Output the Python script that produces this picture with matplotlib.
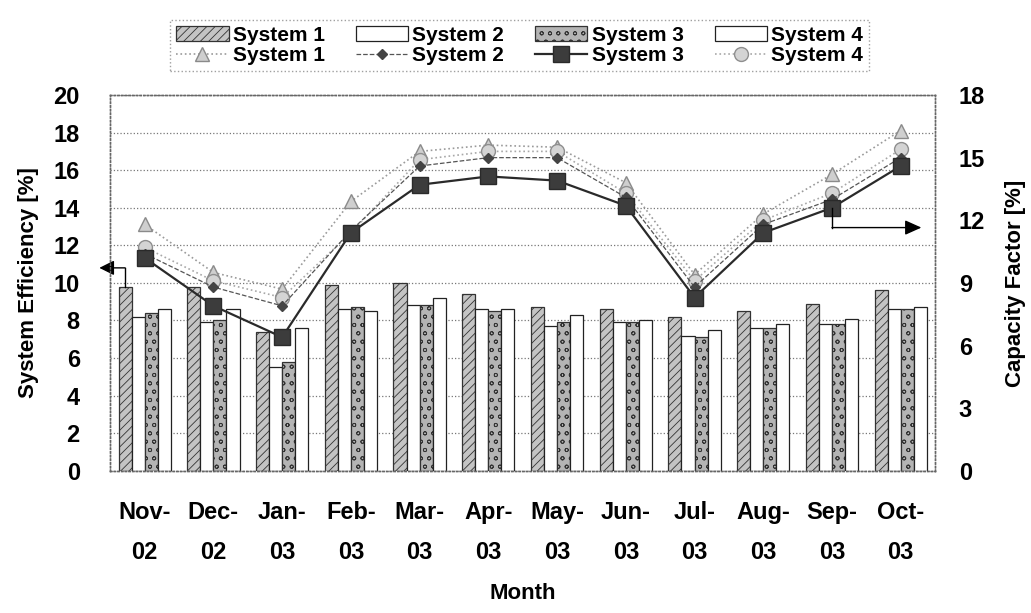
import matplotlib.pyplot as plt
import numpy as np
from matplotlib.lines import Line2D
from matplotlib.patches import Patch

plt.rcParams['font.family'] = ['Liberation Sans', 'DejaVu Sans']
plt.rcParams['font.weight'] = 'bold'
plt.rcParams['hatch.linewidth'] = 0.6

months = ['Nov-\n02', 'Dec-\n02', 'Jan-\n03', 'Feb-\n03', 'Mar-\n03', 'Apr-\n03',
          'May-\n03', 'Jun-\n03', 'Jul-\n03', 'Aug-\n03', 'Sep-\n03', 'Oct-\n03']

# system efficiency [%] (bars, left axis)
eff_s1 = [9.8, 9.8, 7.4, 9.9, 10.0, 9.4, 8.7, 8.6, 8.2, 8.5, 8.9, 9.6]
eff_s2 = [8.2, 7.9, 5.5, 8.6, 8.8, 8.6, 7.7, 7.9, 7.2, 7.6, 7.8, 8.6]
eff_s3 = [8.4, 8.0, 5.8, 8.7, 8.8, 8.5, 7.9, 7.9, 7.1, 7.6, 7.8, 8.6]
eff_s4 = [8.6, 8.6, 7.6, 8.5, 9.2, 8.6, 8.3, 8.0, 7.5, 7.8, 8.1, 8.7]

# capacity factor [%] (lines, right axis)
cf_s1 = [11.8, 9.5, 8.7, 12.9, 15.3, 15.6, 15.5, 13.8, 9.4, 12.3, 14.2, 16.3]
cf_s2 = [10.4, 8.8, 7.9, 11.5, 14.6, 15.0, 15.0, 13.1, 8.8, 11.8, 13.0, 15.0]
cf_s3 = [10.2, 7.9, 6.4, 11.4, 13.7, 14.1, 13.9, 12.7, 8.3, 11.4, 12.6, 14.6]
cf_s4 = [10.7, 9.1, 8.3, 11.4, 14.9, 15.3, 15.3, 13.3, 9.1, 12.0, 13.3, 15.4]

x = np.arange(len(months))
w = 0.19

fig = plt.figure(figsize=(10.31, 6.13), dpi=100)
ax = fig.add_axes([0.107, 0.232, 0.800, 0.613])
ax2 = ax.twinx()

bar_styles = [
    dict(facecolor='#c4c4c4', edgecolor='#333333', hatch='////'),
    dict(facecolor='white', edgecolor='#222222'),
    dict(facecolor='#b4b4b4', edgecolor='#333333', hatch='oo'),
    dict(facecolor='white', edgecolor='#222222'),
]
for i, (vals, st) in enumerate(zip([eff_s1, eff_s2, eff_s3, eff_s4], bar_styles)):
    ax.bar(x + (i - 1.5) * w, vals, width=w, linewidth=0.9, zorder=2, **st)

line_styles = [
    dict(color='#9a9a9a', linestyle=':', linewidth=1.2, marker='^', markersize=10,
         markerfacecolor='#cfcfcf', markeredgecolor='#8a8a8a'),
    dict(color='#555555', linestyle='--', linewidth=0.9, marker='D', markersize=5,
         markerfacecolor='#444444', markeredgecolor='#444444'),
    dict(color='#2a2a2a', linestyle='-', linewidth=1.6, marker='s', markersize=11,
         markerfacecolor='#3c3c3c', markeredgecolor='#2a2a2a'),
    dict(color='#a8a8a8', linestyle=':', linewidth=1.2, marker='o', markersize=10,
         markerfacecolor='#d4d4d4', markeredgecolor='#8f8f8f'),
]
# light series first so the solid System 3 line sits on top
for vals, st in zip([cf_s1, cf_s4, cf_s2, cf_s3],
                    [line_styles[0], line_styles[3], line_styles[1], line_styles[2]]):
    ax2.plot(x, vals, zorder=3, **st)

ax.set_xlim(-0.5, 11.5)
ax.set_ylim(0, 20)
ax.set_yticks(range(0, 21, 2))
ax2.set_ylim(0, 18)
ax2.set_yticks(range(0, 19, 3))
ax.set_xticks(x)
ax.set_xticklabels(months, linespacing=1.9)

ax.grid(axis='y', linestyle=':', color='#777777', linewidth=0.9, zorder=0)
ax.set_axisbelow(True)
for a in (ax, ax2):
    for s in a.spines.values():
        s.set_linestyle(':')
        s.set_color('#666666')
        s.set_linewidth(1.0)

ax.tick_params(axis='x', length=0, pad=22, labelsize=17)
ax.tick_params(axis='y', length=0, pad=22, labelsize=17)
ax2.tick_params(axis='y', length=0, pad=17, labelsize=17)

ax.set_xlabel('Month', fontsize=16, fontweight='bold', labelpad=14)
ax.set_ylabel('System Efficiency [%]', fontsize=16, fontweight='bold', labelpad=10)
ax2.set_ylabel('Capacity Factor [%]', fontsize=16, fontweight='bold', labelpad=14)

# arrows pointing each series group to its axis
ax.plot([x[0] - 1.5 * w, x[0] - 1.5 * w], [eff_s1[0], 10.8], color='black', lw=1.0, zorder=4)
ax.annotate('', xy=(-0.66, 10.8), xytext=(x[0] - 1.5 * w, 10.8), annotation_clip=False,
            arrowprops=dict(arrowstyle='-|>,head_length=0.9,head_width=0.45',
                            color='black', lw=1.0, shrinkA=0, shrinkB=0))
ax2.plot([x[10], x[10]], [cf_s3[10], 11.65], color='black', lw=1.0, zorder=4)
ax2.annotate('', xy=(11.3, 11.65), xytext=(x[10], 11.65), annotation_clip=False,
             arrowprops=dict(arrowstyle='-|>,head_length=1.0,head_width=0.45',
                             color='black', lw=1.0, shrinkA=0, shrinkB=0))

handles = []
labels = []
for k, (st, lst) in enumerate(zip(bar_styles, line_styles)):
    handles.append(Patch(linewidth=0.9, **st))
    handles.append(Line2D([], [], **lst))
    labels += ['System %d' % (k + 1)] * 2

leg = fig.legend(handles, labels, ncol=4, loc='upper center', bbox_to_anchor=(0.504, 0.985),
                 frameon=True, fancybox=False, edgecolor='#888888',
                 handlelength=2.5, handletextpad=0.2, columnspacing=1.5, labelspacing=0.05,
                 borderpad=0.3, prop={'weight': 'bold', 'size': 15})
leg.get_frame().set_linestyle(':')

fig.savefig('out.png', dpi=100)
